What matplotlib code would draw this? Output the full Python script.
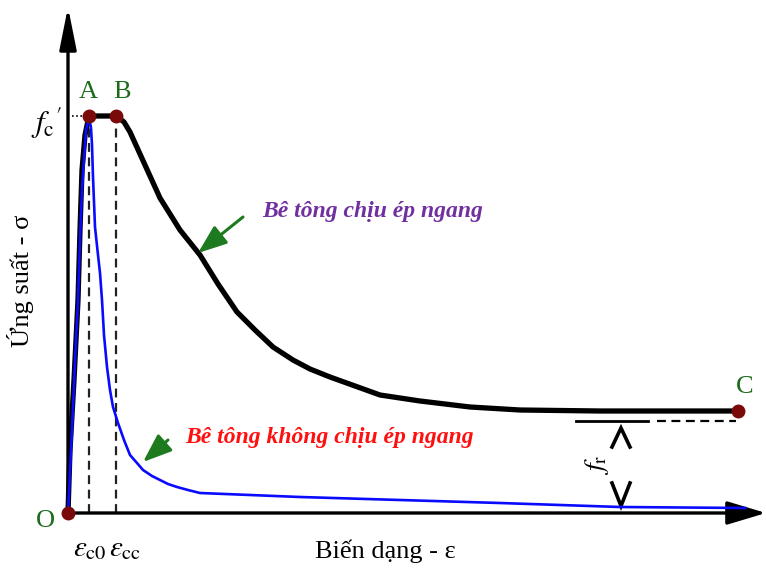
import matplotlib
matplotlib.use("Agg")
import matplotlib.pyplot as plt
import numpy as np

plt.rcParams['font.family'] = ['Liberation Serif', 'DejaVu Serif']
plt.rcParams['mathtext.fontset'] = 'stix'

# Stress-strain curves (arbitrary units, origin at O)
confined_strain = [0, 2, 6, 10, 12, 14, 17, 21, 48, 56, 62, 77, 92, 112, 132, 150, 169,
                   187, 205, 225, 242, 262, 287, 312, 352, 402, 452, 532, 670]
confined_stress = [0, 63, 133, 213, 283, 343, 378, 397, 397, 391, 381, 348, 315, 283, 258,
                   229, 201, 183, 166, 153, 144, 136, 127, 118, 112, 106, 103, 102, 102]

unconfined_strain = [0, 4, 8, 10, 12, 14, 16, 18, 21, 23, 24, 25, 27, 30, 32, 34, 36, 39, 42,
                     45, 50, 56, 62, 69, 75, 84, 92, 100, 109, 120, 132, 232, 332, 432, 552, 677]
unconfined_stress = [0, 83, 173, 213, 273, 323, 353, 383, 396, 385, 368, 336, 286, 258, 240,
                     213, 178, 146, 123, 106, 90, 73, 58, 50, 43, 37, 33, 29, 26, 23, 20, 16,
                     13, 10, 6, 5]

# Key points O, A, B, C
point_names = ['O', 'A', 'B', 'C']
point_strain = [0, 21, 48, 670]
point_stress = [0, 397, 397, 102]

fc_peak = 397      # f'c
eps_c0 = 21
eps_cc = 48
fr_level = 92      # residual strength level

fig = plt.figure(figsize=(7.66, 5.70), dpi=100)
ax = fig.add_axes([0, 0, 1, 1])
ax.set_xlim(-68, 698)
ax.set_ylim(-57, 513)
ax.axis('off')

# Axes with arrowheads
ax.annotate('', xy=(0, 506), xytext=(0, 0),
            arrowprops=dict(arrowstyle='-|>,head_length=1.6,head_width=0.32',
                            lw=2.4, color='black', mutation_scale=16,
                            shrinkA=0, shrinkB=0))
ax.annotate('', xy=(698, 0), xytext=(0, 0),
            arrowprops=dict(arrowstyle='-|>,head_length=1.5,head_width=0.45',
                            lw=2.4, color='black', mutation_scale=16,
                            shrinkA=0, shrinkB=0))

# Reference dashed lines
ax.plot([eps_c0, eps_c0], [0, fc_peak], ls=(0, (4, 2.5)), color='#222222', lw=1.6)
ax.plot([eps_cc, eps_cc], [0, fc_peak], ls=(0, (4, 2.5)), color='#222222', lw=1.6)
ax.plot([4, 17], [fc_peak, fc_peak], ls=(0, (1, 1.5)), color='black', lw=1.2)

# Curves
ax.plot(confined_strain, confined_stress, color='black', lw=3.8,
        solid_joinstyle='round', solid_capstyle='round', zorder=3)
ax.plot(unconfined_strain, unconfined_stress, color='#0a0aff', lw=1.9, zorder=4)

# Residual strength marker lines
ax.plot([508, 580], [fr_level, fr_level], color='black', lw=2.0)
ax.plot([589, 668], [fr_level, fr_level], ls=(0, (4, 2.5)), color='black', lw=1.6)

# Chevrons
ax.plot([544, 553, 562], [66, 85, 66], color='black', lw=2.6, solid_joinstyle='miter')
ax.plot([544, 553, 562], [30, 7, 30], color='black', lw=2.6, solid_joinstyle='miter')
ax.text(529, 48, r'$f_{\mathrm{r}}$', rotation=90, fontsize=20,
        ha='center', va='center')

# Points
ax.plot(point_strain, point_stress, 'o', color='#7a0a0a', ms=9, zorder=6)

green = '#1b6b1b'
label_pos = {'O': (-23, -8), 'A': (20, 421), 'B': (54, 421), 'C': (677, 126)}
for name in point_names:
    x, y = label_pos[name]
    ax.text(x, y, name, color=green, fontsize=19, ha='center', va='center')

ax.text(-22, 390, r"$f_{\mathrm{c}}{}'$", fontsize=22, ha='center', va='center')
ax.text(22, -36, r'$\varepsilon_{\mathrm{c0}}$', fontsize=21, ha='center', va='center')
ax.text(57, -36, r'$\varepsilon_{\mathrm{cc}}$', fontsize=21, ha='center', va='center')

ax.text(317, -38, 'Biến dạng - ε', fontsize=19, ha='center', va='center')
ax.text(-48, 232, 'Ứng suất - σ', fontsize=19, ha='center', va='center', rotation=90)

ax.text(194, 301, 'Bê tông chịu ép ngang', color='#7030a0', fontsize=17,
        fontweight='bold', fontstyle='italic', ha='left', va='center')
ax.text(117, 75, 'Bê tông không chịu ép ngang', color='#ff1010', fontsize=17,
        fontweight='bold', fontstyle='italic', ha='left', va='center')

arrow_green = '#1e7a1e'
for tail, tip in [((175, 296), (130, 260)), ((100, 73), (75, 51))]:
    ax.annotate('', xy=tip, xytext=tail,
                arrowprops=dict(arrowstyle='-|>,head_length=1.1,head_width=0.42',
                                lw=2.2, color=arrow_green, mutation_scale=16,
                                shrinkA=0, shrinkB=0))

fig.savefig('out.png', dpi=100)
